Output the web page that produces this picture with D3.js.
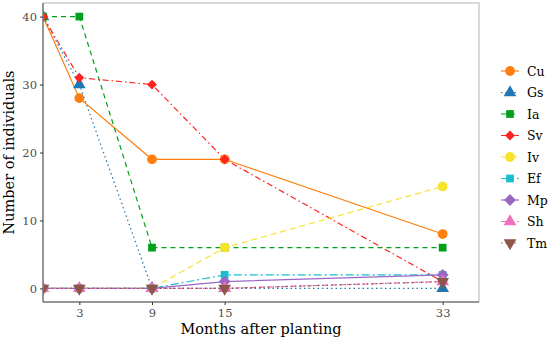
<!DOCTYPE html>
<html>
<head>
<meta charset="utf-8">
<script src="https://cdn.jsdelivr.net/npm/d3@7"></script>
<style>
  body { margin: 0; background: #fff; }
  svg { font-family: "DejaVu Serif", "Liberation Serif", serif; }
</style>
</head>
<body>
<svg width="550" height="345"></svg>
<script>
  // data
  const months = [0, 3, 9, 15, 33];
  const xTicks = [3, 9, 15, 33];
  const yTicks = [0, 10, 20, 30, 40];
  const species = ['Cu', 'Gs', 'Ia', 'Sv', 'Iv', 'Ef', 'Mp', 'Sh', 'Tm'];
  const Cu = [40, 28, 19, 19, 8];
  const Gs = [40, 30, 0, 0, 0];
  const Ia = [40, 40, 6, 6, 6];
  const Sv = [40, 31, 30, 19, 1];
  const Iv = [0, 0, 0, 6, 15];
  const Ef = [0, 0, 0, 2, 2];
  const Mp = [0, 0, 0, 1, 2];
  const Sh = [0, 0, 0, 0, 1];
  const Tm = [0, 0, 0, 0, 1];
  const values = { Cu, Gs, Ia, Sv, Iv, Ef, Mp, Sh, Tm };

  const colors = ['#ff7f0e', '#1f77b4', '#00a01a', '#ff2222', '#f5e42a', '#17becf', '#9a67c4', '#f26fc0', '#8c564b'];
  const dashes = [null, '1.5,3', '5,4', '6,3,1.5,3', '6,4', '8,3,2,3', null, '5,3', '1.5,3'];
  // 'diamond' = square turned 45 degrees, 'down' = triangle pointing down
  const shapes = ['circle', 'up', 'square', 'diamond', 'circle', 'square', 'diamond', 'up', 'down'];
  const sizes = [75, 70, 60, 48, 75, 60, 70, 70, 70];

  const svg = d3.select('svg');
  const margin = { left: 43, top: 3, right: 479, bottom: 302 };

  const x = d3.scaleLinear().domain([0, 36]).range([margin.left, margin.right]);
  const y = d3.scaleLinear().domain([-2, 42]).range([margin.bottom, margin.top]);

  svg.append('clipPath').attr('id', 'clip')
    .append('rect')
    .attr('x', margin.left).attr('y', margin.top)
    .attr('width', margin.right - margin.left).attr('height', margin.bottom - margin.top);

  // panel border
  svg.append('rect')
    .attr('x', margin.left).attr('y', margin.top)
    .attr('width', margin.right - margin.left).attr('height', margin.bottom - margin.top)
    .attr('fill', 'none').attr('stroke', '#b3b3b3').attr('stroke-width', 1);

  function symbolPath(shape, size) {
    const t = { circle: d3.symbolCircle, up: d3.symbolTriangle, down: d3.symbolTriangle,
                square: d3.symbolSquare, diamond: d3.symbolSquare }[shape];
    return d3.symbol().type(t).size(size)();
  }
  function rot(shape) {
    if (shape === 'down') return ' rotate(180)';
    if (shape === 'diamond') return ' rotate(45)';
    return '';
  }

  const g = svg.append('g').attr('clip-path', 'url(#clip)');
  const line = d3.line().x((d, i) => x(months[i])).y(d => y(d));

  species.forEach((s, k) => {
    g.append('path')
      .datum(values[s])
      .attr('d', line)
      .attr('fill', 'none')
      .attr('stroke', colors[k])
      .attr('stroke-width', 1.2)
      .attr('stroke-dasharray', dashes[k]);
  });
  species.forEach((s, k) => {
    g.selectAll('.pt' + s)
      .data(values[s])
      .enter().append('path')
      .attr('d', symbolPath(shapes[k], sizes[k]))
      .attr('transform', (d, i) => 'translate(' + x(months[i]) + ',' + y(d) + ')' + rot(shapes[k]))
      .attr('fill', colors[k]);
  });

  // axes
  const xAxis = svg.append('g')
    .attr('transform', 'translate(0,' + margin.bottom + ')')
    .call(d3.axisBottom(x).tickValues(xTicks).tickSize(3).tickPadding(4));
  const yAxis = svg.append('g')
    .attr('transform', 'translate(' + margin.left + ',0)')
    .call(d3.axisLeft(y).tickValues(yTicks).tickSize(3).tickPadding(3));
  [xAxis, yAxis].forEach(a => {
    a.select('.domain').attr('stroke', '#7f7f7f').attr('stroke-width', 1.5);
    a.selectAll('.tick line').attr('stroke', '#333');
    a.selectAll('.tick text').attr('fill', '#4d4d4d').style('font-size', '11.5px')
      .style('font-family', '"DejaVu Serif", serif');
  });
  xAxis.select('.domain').attr('d', 'M' + margin.left + ',0H' + margin.right);
  yAxis.select('.domain').attr('d', 'M0,' + margin.top + 'V' + margin.bottom);

  svg.append('text')
    .attr('x', (margin.left + margin.right) / 2).attr('y', 334)
    .attr('text-anchor', 'middle')
    .style('font-size', '14.5px')
    .text('Months after planting');
  svg.append('text')
    .attr('transform', 'translate(14,' + ((margin.top + margin.bottom) / 2) + ') rotate(-90)')
    .attr('text-anchor', 'middle')
    .style('font-size', '14.5px')
    .text('Number of individuals');

  // legend
  const legend = svg.append('g');
  species.forEach((s, k) => {
    const ly = 71 + 21.5 * k;
    legend.append('line')
      .attr('x1', 501).attr('x2', 519).attr('y1', ly).attr('y2', ly)
      .attr('stroke', colors[k]).attr('stroke-width', 1.2)
      .attr('stroke-dasharray', dashes[k]);
    legend.append('path')
      .attr('d', symbolPath(shapes[k], sizes[k]))
      .attr('transform', 'translate(510,' + ly + ')' + rot(shapes[k]))
      .attr('fill', colors[k]);
    legend.append('text')
      .attr('x', 527).attr('y', ly + 4.5)
      .style('font-size', '12.5px')
      .text(s);
  });
</script>
</body>
</html>
